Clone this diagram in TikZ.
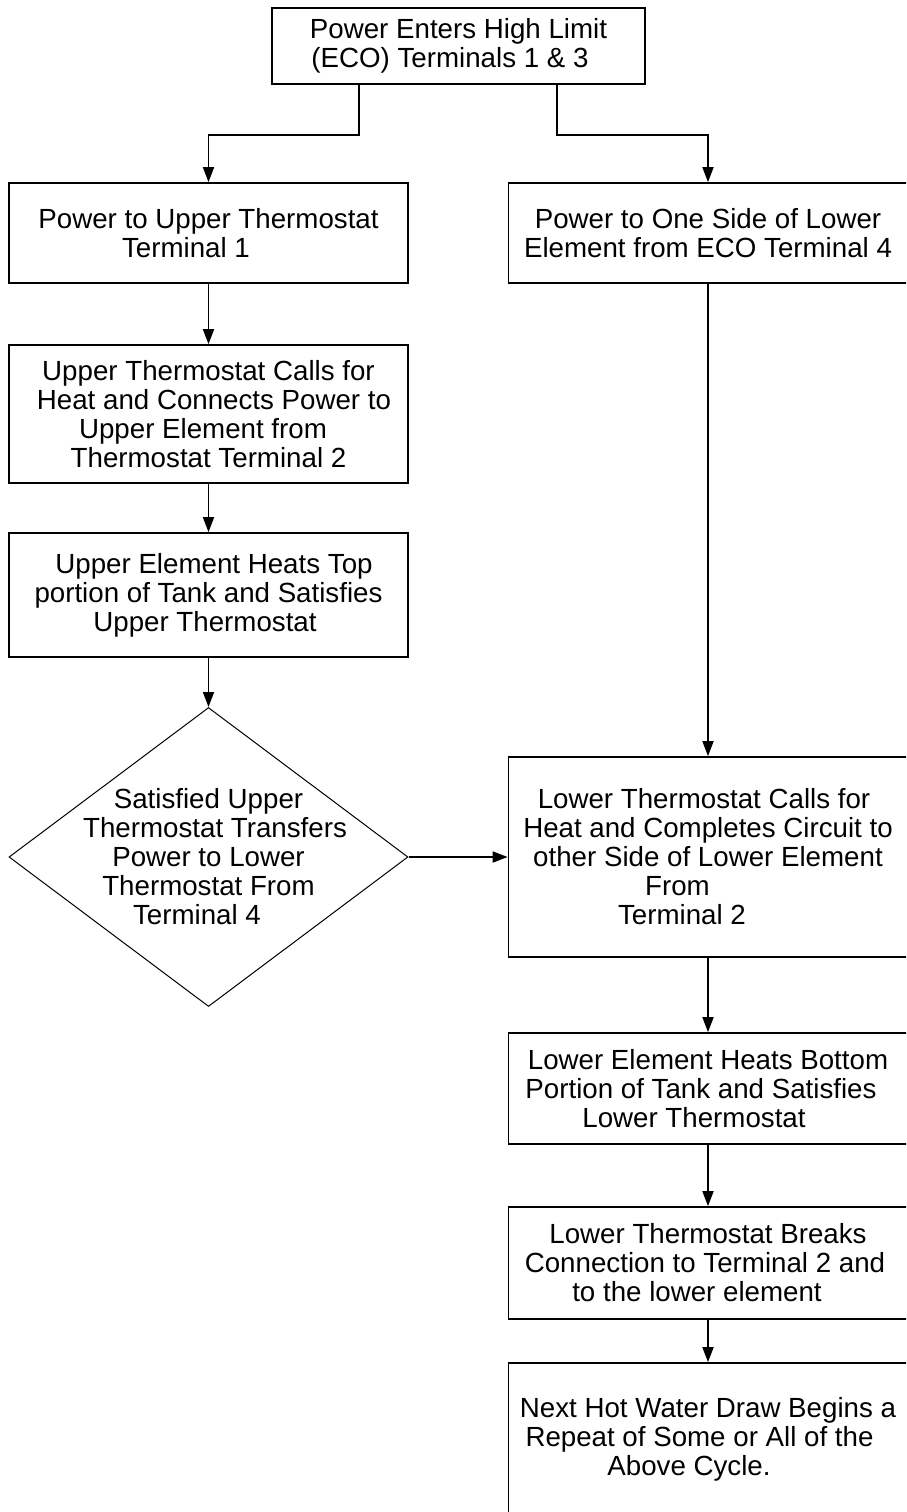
\documentclass[tikz,border=0pt]{standalone}
\usepackage{fontspec}
\setmainfont{Liberation Sans}
\usetikzlibrary{arrows.meta,shapes.geometric}
\begin{document}
\begin{tikzpicture}[x=1pt,y=-1pt,>={Triangle[length=15pt,width=11pt]},line join=miter,
  txt/.style={align=center,inner sep=0pt,font=\fontsize{27.7}{29}\selectfont},
  box/.style={txt,draw,line width=1.7pt,minimum width=399pt},
  flow/.style={->,line width=1.7pt}]
  \useasboundingbox (0,0) rectangle (906,1512);
  \clip (0,0) rectangle (906,1512);
%%
  % Node: PowerIn
  \node[box,minimum width=373pt,minimum height=76pt] (PowerIn) at (458.5,46) {Power Enters High Limit\\(ECO) Terminals 1 \& 3\hspace*{17pt}\mbox{}};
  % Node: UpperTerm1
  \node[box,minimum height=100pt] (UpperTerm1) at (208.5,233) {Power to Upper Thermostat\\Terminal 1\hspace*{45pt}\mbox{}};
  % Node: LowerSide
  \node[box,minimum height=100pt] (LowerSide) at (708,233) {Power to One Side of Lower\\Element from ECO Terminal 4};
  % Node: UpperCalls
  \node[box,minimum height=138pt] (UpperCalls) at (208.5,414) {Upper Thermostat Calls for\\\hspace*{11pt}Heat and Connects Power to\\Upper Element from\hspace*{11pt}\mbox{}\\Thermostat Terminal 2};
  % Node: UpperHeats
  \node[box,minimum height=124pt] (UpperHeats) at (208.5,595) {\hspace*{11pt}Upper Element Heats Top\\portion of Tank and Satisfies\\Upper Thermostat\hspace*{7pt}\mbox{}};
  % Node: UpperSat
  \node[draw,diamond,line width=1pt,inner sep=0pt,minimum width=399pt,minimum height=299pt] (UpperSat) at (208.5,857) {};
  \node[txt] (UpperSatText) at (UpperSat.center) {Satisfied Upper\\\hspace*{13pt}Thermostat Transfers\\Power to Lower\\Thermostat From\\Terminal 4\hspace*{23pt}\mbox{}};
  % Node: LowerCalls
  \node[box,minimum height=200pt] (LowerCalls) at (708,857) {Lower Thermostat Calls for\hspace*{8pt}\mbox{}\\Heat and Completes Circuit to\\other Side of Lower Element\\From\hspace*{61pt}\mbox{}\\Terminal 2\hspace*{52pt}\mbox{}};
  % Node: LowerHeats
  \node[box,minimum height=111pt] (LowerHeats) at (708,1088.5) {Lower Element Heats Bottom\\Portion of Tank and Satisfies\hspace*{14pt}\mbox{}\\Lower Thermostat\hspace*{28pt}\mbox{}};
  % Node: LowerBreaks
  \node[box,minimum height=112pt] (LowerBreaks) at (708,1263) {Lower Thermostat Breaks\\Connection to Terminal 2 and\hspace*{6pt}\mbox{}\\to the lower element\hspace*{22pt}\mbox{}};
  % Node: NextDraw
  \node[box,minimum height=152pt] (NextDraw) at (708,1439) {Next Hot Water Draw Begins a\\Repeat of Some or All of the\hspace*{17pt}\mbox{}\\Above Cycle.\hspace*{38pt}\mbox{}};
%%
  % Edge: PowerIn -> UpperTerm1
  \draw[flow] ([xshift=-99.5pt]PowerIn.south) -- ++(0,50) -| (UpperTerm1.north);
  % Edge: PowerIn -> LowerSide
  \draw[flow] ([xshift=98.5pt]PowerIn.south) -- ++(0,50) -| (LowerSide.north);
  % Edge: UpperTerm1 -> UpperCalls
  \draw[flow] (UpperTerm1) -- (UpperCalls);
  % Edge: UpperCalls -> UpperHeats
  \draw[flow] (UpperCalls) -- (UpperHeats);
  % Edge: UpperHeats -> UpperSat
  \draw[flow] (UpperHeats) -- (UpperSat);
  % Edge: UpperSat -> LowerCalls
  \draw[flow] (UpperSat) -- (LowerCalls);
  % Edge: LowerSide -> LowerCalls
  \draw[flow] (LowerSide) -- (LowerCalls);
  % Edge: LowerCalls -> LowerHeats
  \draw[flow] (LowerCalls) -- (LowerHeats);
  % Edge: LowerHeats -> LowerBreaks
  \draw[flow] (LowerHeats) -- (LowerBreaks);
  % Edge: LowerBreaks -> NextDraw
  \draw[flow] (LowerBreaks) -- (NextDraw);
%
\end{tikzpicture}
\end{document}
